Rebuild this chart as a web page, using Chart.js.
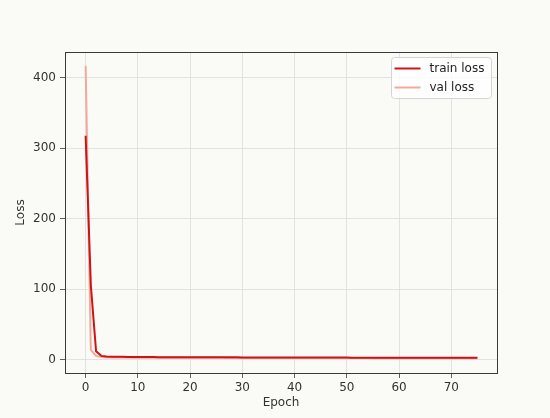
<!DOCTYPE html>
<html>
<head>
<meta charset="utf-8">
<script src="https://cdn.jsdelivr.net/npm/chart.js@4/dist/chart.umd.min.js"></script>
<style>
  html, body { margin: 0; padding: 0; background: #fafaf7; }
  #wrap { width: 550px; height: 418px; }
</style>
</head>
<body>
<div id="wrap"><canvas id="lossChart" width="550" height="418"></canvas></div>
<script>
// epochs 0..75
const epochs = [
  0, 1, 2, 3, 4, 5, 6, 7, 8, 9,
  10, 11, 12, 13, 14, 15, 16, 17, 18, 19,
  20, 21, 22, 23, 24, 25, 26, 27, 28, 29,
  30, 31, 32, 33, 34, 35, 36, 37, 38, 39,
  40, 41, 42, 43, 44, 45, 46, 47, 48, 49,
  50, 51, 52, 53, 54, 55, 56, 57, 58, 59,
  60, 61, 62, 63, 64, 65, 66, 67, 68, 69,
  70, 71, 72, 73, 74, 75
];
const trainLoss = [
  318, 105, 12, 5.6, 4.8, 4.5, 4.3, 4.2, 4.1, 4.0,
  4.0, 3.9, 3.9, 3.9, 3.8, 3.8, 3.8, 3.7, 3.7, 3.7,
  3.7, 3.6, 3.6, 3.6, 3.6, 3.5, 3.5, 3.5, 3.5, 3.5,
  3.4, 3.4, 3.4, 3.4, 3.4, 3.4, 3.4, 3.4, 3.4, 3.4,
  3.3, 3.3, 3.3, 3.3, 3.3, 3.2, 3.2, 3.2, 3.2, 3.2,
  3.2, 3.1, 3.1, 3.1, 3.1, 3.1, 3.1, 3.1, 3.1, 3.1,
  3.1, 3.0, 3.0, 3.0, 3.0, 3.0, 3.0, 3.0, 3.0, 3.0,
  3.0, 3.0, 3.0, 3.0, 3.0, 3.0
];
const valLoss = [
  417, 14, 5.5, 4.0, 3.6, 3.4, 3.3, 3.2, 3.2, 3.1,
  3.1, 3.1, 3.0, 3.0, 3.0, 3.0, 2.9, 2.9, 2.9, 2.9,
  2.9, 2.8, 2.8, 2.8, 2.8, 2.8, 2.8, 2.7, 2.7, 2.7,
  2.7, 2.7, 2.7, 2.7, 2.6, 2.6, 2.6, 2.6, 2.6, 2.6,
  2.6, 2.6, 2.6, 2.5, 2.5, 2.5, 2.5, 2.5, 2.5, 2.5,
  2.5, 2.5, 2.5, 2.5, 2.5, 2.4, 2.4, 2.4, 2.4, 2.4,
  2.4, 2.4, 2.4, 2.4, 2.4, 2.4, 2.4, 2.4, 2.4, 2.4,
  2.4, 2.4, 2.4, 2.4, 2.4, 2.4
];
const xTicks = [0, 10, 20, 30, 40, 50, 60, 70];
const yTicks = [0, 100, 200, 300, 400];

const FONT = 'DejaVu Sans';
const TEXT = '#333333';
const GRID = '#dcdcdc';

// full box around the plot (matplotlib spines)
const frame = {
  id: 'frame',
  afterDatasetsDraw(chart) {
    const { ctx, chartArea: a } = chart;
    ctx.save();
    ctx.strokeStyle = '#3a3a3a';
    ctx.lineWidth = 1;
    ctx.strokeRect(Math.round(a.left) + 0.5, Math.round(a.top) + 0.5,
      Math.round(a.right - a.left), Math.round(a.bottom - a.top));
    ctx.restore();
  }
};

// legend in upper right corner, inside the axes
const boxLegend = {
  id: 'boxLegend',
  afterDraw(chart) {
    const { ctx, chartArea: a } = chart;
    const x0 = a.right - 105.5, y0 = a.top + 5.5, w = 100, h = 41;
    ctx.save();
    ctx.fillStyle = 'rgba(255,255,255,0.8)';
    ctx.strokeStyle = '#d4d4d4';
    ctx.lineWidth = 1;
    ctx.beginPath();
    ctx.roundRect(x0, y0, w, h, 3);
    ctx.fill();
    ctx.stroke();
    ctx.font = '12px "' + FONT + '"';
    ctx.textBaseline = 'middle';
    chart.data.datasets.forEach((ds, i) => {
      const y = y0 + 11 + i * 19;
      ctx.strokeStyle = ds.borderColor;
      ctx.lineWidth = ds.borderWidth;
      ctx.beginPath();
      ctx.moveTo(x0 + 3, y);
      ctx.lineTo(x0 + 29, y);
      ctx.stroke();
      ctx.fillStyle = '#222';
      ctx.fillText(ds.label, x0 + 38, y);
    });
    ctx.restore();
  }
};

new Chart(document.getElementById('lossChart'), {
  type: 'line',
  data: {
    labels: epochs,
    datasets: [
      {
        label: 'train loss',
        data: epochs.map((e, i) => ({ x: e, y: trainLoss[i] })),
        borderColor: '#cc1414',
        borderWidth: 2,
        pointRadius: 0,
        tension: 0,
        fill: false
      },
      {
        label: 'val loss',
        data: epochs.map((e, i) => ({ x: e, y: valLoss[i] })),
        borderColor: '#f3a89c',
        borderWidth: 2,
        pointRadius: 0,
        tension: 0,
        fill: false
      }
    ]
  },
  options: {
    responsive: false,
    animation: false,
    layout: { padding: { left: 0, right: 53, top: 52, bottom: 0 } },
    plugins: {
      legend: { display: false },
      tooltip: { enabled: false }
    },
    scales: {
      x: {
        type: 'linear',
        min: -3.95,
        max: 78.75,
        afterBuildTicks: (s) => { s.ticks = xTicks.map(v => ({ value: v })); },
        afterFit: (s) => { s.height = 45; },
        grid: { color: GRID, lineWidth: 0.8, tickColor: '#3a3a3a', tickLength: 5 },
        border: { color: '#3a3a3a' },
        ticks: { color: TEXT, font: { family: FONT, size: 12 }, padding: 3, maxRotation: 0 },
        title: {
          display: true, text: 'Epoch', color: TEXT,
          font: { family: FONT, size: 12 }, padding: { top: 0, bottom: 8 }
        }
      },
      y: {
        type: 'linear',
        min: -18.7,
        max: 436.7,
        afterBuildTicks: (s) => { s.ticks = yTicks.map(v => ({ value: v })); },
        afterFit: (s) => { s.width = 65; },
        grid: { color: GRID, lineWidth: 0.8, tickColor: '#3a3a3a', tickLength: 5 },
        border: { color: '#3a3a3a' },
        ticks: { color: TEXT, font: { family: FONT, size: 12 }, padding: 4 },
        title: {
          display: true, text: 'Loss', color: TEXT,
          font: { family: FONT, size: 12 }, padding: { top: 14, bottom: 0 }
        }
      }
    }
  },
  plugins: [frame, boxLegend]
});
</script>
</body>
</html>
